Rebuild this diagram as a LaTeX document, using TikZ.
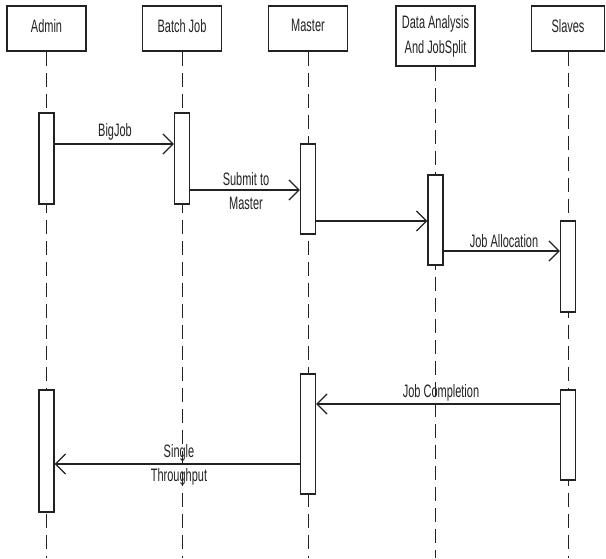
\documentclass[tikz,border=0pt]{standalone}
\usepackage{fontspec}
\setmainfont{Liberation Sans}[FakeStretch=0.61]
\usetikzlibrary{arrows.meta}
\definecolor{ink}{HTML}{222222}
\tikzset{
  head/.style={draw=ink, line width=1.3pt, fill=white, minimum width=79pt, minimum height=45pt, inner sep=0pt, align=center, text=ink, font=\fontsize{18}{25}\selectfont},
  act/.style={draw=ink, line width=1.3pt, fill=white, minimum width=15pt, inner sep=0pt},
  life/.style={draw=ink, line width=0.9pt, dash pattern=on 14pt off 7pt},
  msg/.style={draw=ink, line width=1.3pt, -{Straight Barb[length=10pt,width=20pt,line width=1.3pt]}},
  lbl/.style={text=ink, align=center, inner sep=0pt, font=\fontsize{18}{24}\selectfont}
}
\begin{document}
\begin{tikzpicture}[x=1pt,y=-1pt]
\useasboundingbox (0,0) rectangle (606,558);
\fill[white] (0,0) rectangle (606,558);
\coordinate (bot) at (0,558);
% headers
\node[head, text depth=6pt] (admin) at (46.5,28.5) {Admin};
\node[head, text depth=6pt] (batch) at (182,28.5) {Batch Job};
\node[head, text depth=6pt] (master) at (308,28.5) {Master};
\node[head, minimum height=60pt] (da) at (435.5,36) {Data Analysis\\And JobSplit};
\node[head, text depth=6pt, minimum width=73pt] (slaves) at (568,28.5) {Slaves};
% lifelines
\draw[life] (admin.south) -- (admin.south |- bot);
\draw[life] (batch.south) -- (batch.south |- bot);
\draw[life] (master.south) -- (master.south |- bot);
\draw[life] (da.south) -- (da.south |- bot);
\draw[life] (slaves.south) -- (slaves.south |- bot);
% activations
\node[act, minimum height=91pt] (adminA1) at (46.5,158.5) {};
\node[act, minimum height=91pt] (batchA1) at (182,158.5) {};
\node[act, minimum height=90pt] (masterA1) at (308,189) {};
\node[act, minimum height=90pt] (daA1) at (435.5,220) {};
\node[act, minimum height=91pt] (slaveA1) at (568,266.5) {};
\node[act, minimum height=120pt] (masterA2) at (308,434) {};
\node[act, minimum height=90pt] (slaveA2) at (568,435) {};
\node[act, minimum height=122pt] (adminA2) at (46.5,451) {};
% message levels
\coordinate (m1) at (0,144);
\coordinate (m2) at (0,190);
\coordinate (m3) at (0,221);
\coordinate (m4) at (0,251);
\coordinate (m5) at (0,404);
\coordinate (m6) at (0,464);
% messages
\draw[msg] (adminA1.east |- m1) -- (batchA1.west |- m1);
\draw[msg] (batchA1.east |- m2) -- (masterA1.west |- m2);
\draw[msg] (masterA1.east |- m3) -- (daA1.west |- m3);
\draw[msg] (daA1.east |- m4) -- (slaveA1.west |- m4);
\draw[msg] (slaveA2.west |- m5) -- (masterA2.east |- m5);
\draw[msg] (masterA2.west |- m6) -- (adminA2.east |- m6);
% labels
\node[lbl] (l1) at (115,132) {BigJob};
\node[lbl] (l2) at (246,191.5) {Submit to\\Master};
\node[lbl] (l4) at (504,241) {Job Allocation};
\node[lbl] (l5) at (441,393) {Job Completion};
\node[lbl] (l6) at (179,465) {Single\\Throughput};
\end{tikzpicture}
\end{document}
